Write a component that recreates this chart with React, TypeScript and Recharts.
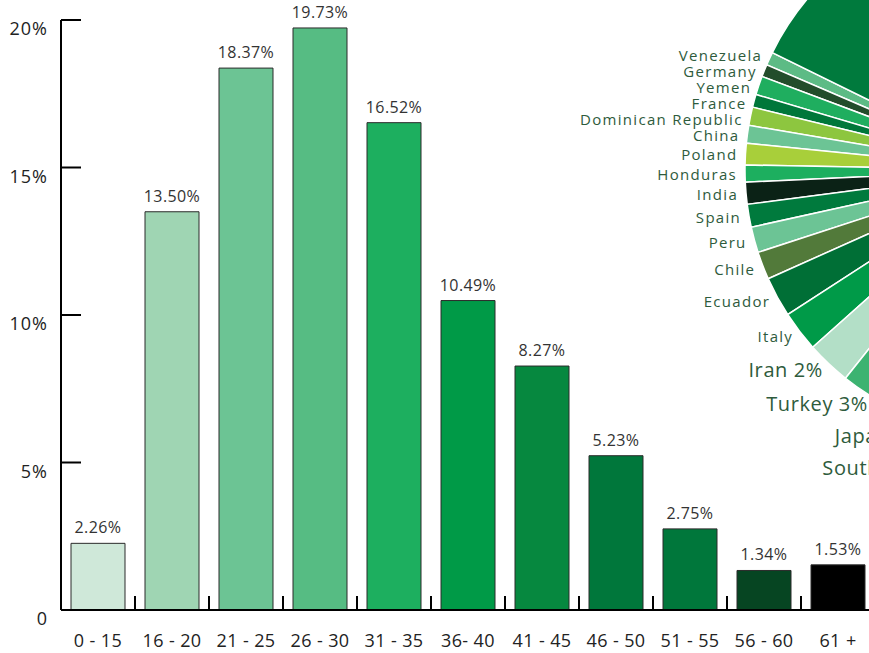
import React from 'react';
import { BarChart, Bar, XAxis, YAxis, Cell, LabelList, PieChart, Pie } from 'recharts';

const ageGroups = ['0 - 15', '16 - 20', '21 - 25', '26 - 30', '31 - 35', '36- 40', '41 - 45', '46 - 50', '51 - 55', '56 - 60', '61 +'];
const ageShares = [2.26, 13.5, 18.37, 19.73, 16.52, 10.49, 8.27, 5.23, 2.75, 1.34, 1.53];
const barColors = ['#cfe8d9', '#9fd5b3', '#6cc494', '#56bc83', '#1daf5f', '#009a47', '#06883f', '#00773b', '#00773b', '#064522', '#000000'];
const yTicks = [0, 5, 10, 15, 20];

const countries = ['Venezuela', 'Germany', 'Yemen', 'France', 'Dominican Republic', 'China', 'Poland', 'Honduras', 'India', 'Spain', 'Peru', 'Chile', 'Ecuador', 'Italy', 'Iran', 'Turkey', 'Japan', 'South Korea', 'Others'];
const countryShares = [0.81, 0.75, 1.14, 0.78, 1.11, 1.08, 1.31, 1.03, 1.33, 1.39, 1.56, 1.69, 2.44, 2.47, 2.7, 3.9, 3.4, 3.0, 68.11];
const countryColors = ['#5dbb85', '#234d2b', '#1fae5f', '#00773a', '#8dc63f', '#6cc495', '#a8cf3a', '#1daf5f', '#0b2216', '#007a3d', '#6cc495', '#527a3a', '#006f36', '#009a48', '#b3dfc7', '#3cb371', '#1b7a3e', '#8dc63f', '#007a3d'];

const FONT = '"Open Sans", sans-serif';
const W = 869;
const H = 653;
const AXIS_X = 61;
const AXIS_Y = 610;
const BAND = 74;

// pie sits mostly off the right edge
const PIE_CX = 1011;
const PIE_CY = 170;
const PIE_R = 266;
const PIE_START = 153.8;
const LABEL_R = 274;

const barData = ageGroups.map((group, i) => ({ group, share: ageShares[i] }));
const pieData = countries.map((name, i) => ({ name, value: countryShares[i] }));

// label spots from slice mid angles (left half only), pushed down when they would collide
const total = countryShares.reduce((a, b) => a + b, 0);
const labelSpots: ({ x: number; y: number; big: boolean } | null)[] = [];
{
  let acc = 0;
  let prevY = -Infinity;
  countryShares.forEach((v) => {
    const mid = PIE_START + ((acc + v / 2) / total) * 360;
    acc += v;
    const rad = (mid * Math.PI) / 180;
    if (Math.cos(rad) > 0) {
      labelSpots.push(null);
      return;
    }
    const big = v >= 2.5;
    const x = PIE_CX + LABEL_R * Math.cos(rad);
    let y = PIE_CY - LABEL_R * Math.sin(rad);
    const gap = big ? 32 : 16;
    if (y < prevY + gap) y = prevY + gap;
    prevY = y;
    labelSpots.push({ x, y, big });
  });
}

const renderPieLabel = (props: any) => {
  const spot = labelSpots[props.index];
  if (!spot) return null;
  const text = spot.big ? `${props.name} ${Math.floor(props.value)}%` : props.name;
  return (
    <text
      x={spot.x}
      y={spot.y}
      textAnchor="end"
      dominantBaseline="central"
      fontFamily={FONT}
      fontSize={spot.big ? 20 : 15}
      fontWeight={500}
      letterSpacing={spot.big ? 0.6 : 1.3}
      fill="#2e5b3c"
    >
      {text}
    </text>
  );
};

const XTick = ({ x, payload }: any) => (
  <g>
    <line x1={x + BAND / 2} x2={x + BAND / 2} y1={AXIS_Y} y2={AXIS_Y - 14} stroke="#000" strokeWidth={2} />
    <text x={x} y={AXIS_Y + 37} textAnchor="middle" fontFamily={FONT} fontSize={18} letterSpacing={0.4} fill="#222">
      {payload.value}
    </text>
  </g>
);

const YTick = ({ y, payload }: any) => (
  <g>
    <line x1={AXIS_X} x2={AXIS_X + 20} y1={y} y2={y} stroke="#000" strokeWidth={2} />
    <text x={48} y={y + 15} textAnchor="end" fontFamily={FONT} fontSize={18} letterSpacing={1} fill="#222">
      {payload.value === 0 ? '0' : `${payload.value}%`}
    </text>
  </g>
);

const renderValueLabel = (props: any) => {
  const { x, y, width, value } = props;
  return (
    <text x={x + width / 2} y={y - 10} textAnchor="middle" fontFamily={FONT} fontSize={16} letterSpacing={0.4} fill="#333">
      {Number(value).toFixed(2)}%
    </text>
  );
};

export default function App() {
  return (
    <div style={{ position: 'absolute', left: 0, top: 0, width: W, height: H, overflow: 'hidden', background: '#fff' }}>
      <div style={{ position: 'absolute', left: 0, top: 0 }}>
        <BarChart
          width={AXIS_X + BAND * ageGroups.length}
          height={H}
          data={barData}
          margin={{ top: 20, right: 0, bottom: 0, left: 0 }}
          barCategoryGap={10}
        >
          <XAxis
            dataKey="group"
            height={H - AXIS_Y}
            interval={0}
            tickLine={false}
            axisLine={{ stroke: '#000', strokeWidth: 2 }}
            tick={<XTick />}
          />
          <YAxis
            width={AXIS_X}
            domain={[0, 20]}
            ticks={yTicks}
            tickLine={false}
            axisLine={{ stroke: '#000', strokeWidth: 2 }}
            tick={<YTick />}
          />
          <Bar dataKey="share" stroke="#2b2b2b" strokeWidth={1} isAnimationActive={false}>
            {barData.map((_, i) => (
              <Cell key={i} fill={barColors[i]} />
            ))}
            <LabelList dataKey="share" content={renderValueLabel} />
          </Bar>
        </BarChart>
      </div>
      <div style={{ position: 'absolute', left: 0, top: 0, pointerEvents: 'none' }}>
        <PieChart width={W} height={H} margin={{ top: 0, right: 0, bottom: 0, left: 0 }}>
          <Pie
            data={pieData}
            dataKey="value"
            nameKey="name"
            cx={PIE_CX}
            cy={PIE_CY}
            outerRadius={PIE_R}
            innerRadius={0}
            startAngle={PIE_START}
            endAngle={PIE_START + 360}
            stroke="#fff"
            strokeWidth={1.5}
            label={renderPieLabel}
            labelLine={false}
            isAnimationActive={false}
          >
            {pieData.map((_, i) => (
              <Cell key={i} fill={countryColors[i]} />
            ))}
          </Pie>
        </PieChart>
      </div>
    </div>
  );
}
